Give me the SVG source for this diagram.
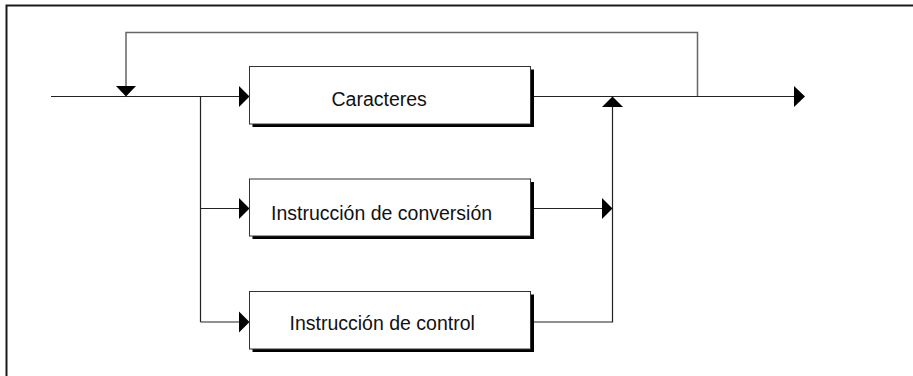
<svg xmlns="http://www.w3.org/2000/svg" width="913" height="376" viewBox="0 0 913 376">
<style>
.frame{fill:none;stroke:#1a1a1a;stroke-width:2}
.ln{fill:none;stroke:#222;stroke-width:1.2}
.loop{fill:none;stroke:#666;stroke-width:1.5}
.ah{fill:#000;stroke:none}
.shadow{fill:#000}
.box{fill:#fff;stroke:#333;stroke-width:1}
.lbl{font-family:"Liberation Sans",Arial,sans-serif;font-size:19.5px;fill:#111}
</style>
<rect width="913" height="376" fill="#fff"/>
<path class="frame" d="M6.5,376 V5.5 H913"/>
<g id="connectors">
<path class="loop" d="M697.5,96.5 V32.5 H126 V87"/>
<path class="ln" d="M51,96.5 H240"/>
<path class="ln" d="M200.5,96.5 V322 M200.5,208.5 H240 M200.5,322 H240"/>
<path class="ln" d="M531,96.5 H795"/>
<path class="ln" d="M531,208.5 H603"/>
<path class="ln" d="M531,322 H612.5 V106"/>
<polygon class="ah" points="116,86 136,86 126,96.5"/>
<polygon class="ah" points="239,86 249.5,96.5 239,107"/>
<polygon class="ah" points="239,198 249.5,208.5 239,219"/>
<polygon class="ah" points="239,311.5 249.5,322 239,332.5"/>
<polygon class="ah" points="602,198 612.5,208.5 602,219"/>
<polygon class="ah" points="602,107 623,107 612.5,96.5"/>
<polygon class="ah" points="794,86 805,96.5 794,107"/>
</g>
<g id="node-caracteres">
<rect class="shadow" x="252.5" y="69.5" width="281.5" height="57.5"/>
<rect class="box" x="249.5" y="66.5" width="281" height="57.5"/>
<text class="lbl" x="331.5" y="106">Caracteres</text>
</g>
<g id="node-conversion">
<rect class="shadow" x="252.5" y="182" width="281.5" height="57"/>
<rect class="box" x="249.5" y="179" width="281" height="57"/>
<text class="lbl" x="271" y="220">Instrucción de conversión</text>
</g>
<g id="node-control">
<rect class="shadow" x="252.5" y="294.5" width="281.5" height="57.5"/>
<rect class="box" x="249.5" y="291.5" width="281" height="57.5"/>
<text class="lbl" x="289.5" y="330">Instrucción de control</text>
</g>
</svg>
